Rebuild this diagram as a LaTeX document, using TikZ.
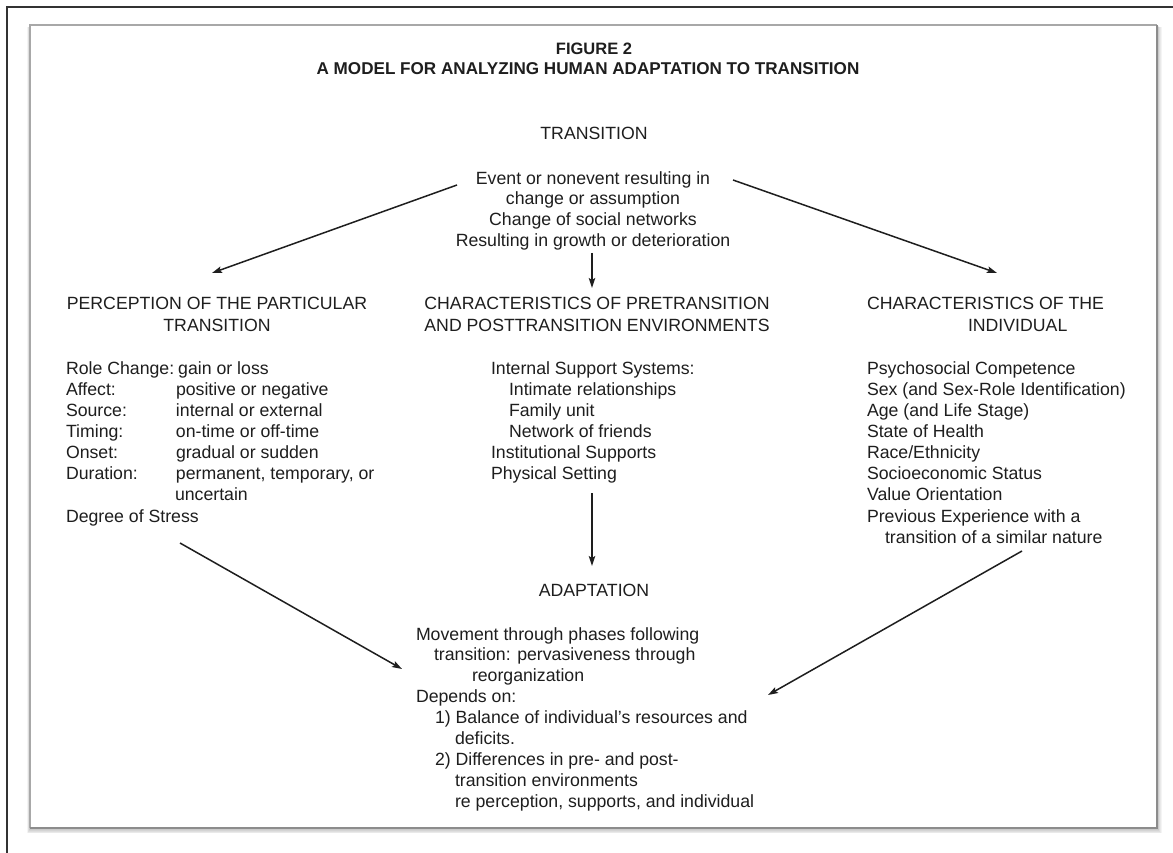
\documentclass[tikz,border=0pt]{standalone}
\usepackage{fontspec}
\setmainfont{Liberation Sans}
\usetikzlibrary{arrows.meta}
\definecolor{ink}{HTML}{1E1E1E}
\definecolor{frameink}{HTML}{333333}
\definecolor{boxline}{HTML}{A8A8A8}
\definecolor{boxdark}{HTML}{8C8C8C}
\newcommand{\lab}[1]{\makebox[110pt][l]{#1}}
% multi-line nodes: the base anchor sits on the baseline of the last line
\tikzset{
  txt/.style={inner sep=0pt, outer sep=0pt, text=ink,
              font=\fontsize{17.7}{21.15}\selectfont},
  blocktxt/.style={txt, align=left, anchor=base west},
  ctrtxt/.style={txt, align=center, anchor=base},
  titletxt/.style={inner sep=0pt, text=ink, anchor=base},
  arr/.style={draw=ink, line width=1.5pt,
              -{Stealth[length=10pt,width=6.5pt,inset=2pt]}},
}
\begin{document}
\begin{tikzpicture}[x=1pt,y=-1pt]
\useasboundingbox (0,0) rectangle (1173,853);
\fill[white] (0,0) rectangle (1173,853);

% outer frame (top and left edges)
\draw[frameink, line width=1.5pt] (7,853) -- (7,7) -- (1173,7);

% panel with soft shadow
\foreach \i in {1,...,6}{
  \fill[black, opacity=0.045] (30-0.5*\i, 25+0.4*\i) rectangle (1157+0.8*\i, 828+0.9*\i);
}
\fill[white] (30,25) rectangle (1157,828);
\draw[boxline, line width=1.3pt] (30,828) -- (30,25) -- (1157,25);
\draw[boxdark, line width=1.7pt] (30,828) -- (1157,828) -- (1157,25);

% title
\node[titletxt, font=\bfseries\fontsize{16.5}{18}\selectfont] (fig) at (594,55) {FIGURE 2};
\node[titletxt, font=\bfseries\fontsize{17.1}{20}\selectfont] (title) at (588,75)
  {A MODEL FOR ANALYZING HUMAN ADAPTATION TO TRANSITION};

% transition
\node[ctrtxt] (tr) at (594,140) {TRANSITION};
\node[ctrtxt, font=\fontsize{17.7}{20.7}\selectfont] (ev) at (593,246.1)
  {Event or nonevent resulting in\\change or assumption\\Change of social networks\\Resulting in growth or deterioration};

% three columns: headings
\node[ctrtxt] (ph) at (217,331) {PERCEPTION OF THE PARTICULAR\\TRANSITION};
\node[ctrtxt] (mh) at (597,331) {CHARACTERISTICS OF PRETRANSITION\\AND POSTTRANSITION ENVIRONMENTS};
\node[blocktxt] (rh) at (867,331) {CHARACTERISTICS OF THE\\\hspace*{101pt}INDIVIDUAL};

% three columns: lists
\node[blocktxt] (pl) at (66,522.05)
  {Role Change:\hspace{4pt}gain or loss\\
   \lab{Affect:}positive or negative\\
   \lab{Source:}internal or external\\
   \lab{Timing:}on-time or off-time\\
   \lab{Onset:}gradual or sudden\\
   \lab{Duration:}permanent, temporary, or\\
   \hspace*{109pt}uncertain\\
   Degree of Stress};
\node[blocktxt] (ml) at (491,479.75)
  {Internal Support Systems:\\
   \hspace*{18pt}Intimate relationships\\
   \hspace*{18pt}Family unit\\
   \hspace*{18pt}Network of friends\\
   Institutional Supports\\
   Physical Setting};
\node[blocktxt] (rl) at (867,543.2)
  {Psychosocial Competence\\
   Sex (and Sex-Role Identification)\\
   Age (and Life Stage)\\
   State of Health\\
   Race/Ethnicity\\
   Socioeconomic Status\\
   Value Orientation\\
   Previous Experience with a\\
   \hspace*{18pt}transition of a similar nature};

% adaptation
\node[ctrtxt] (ah) at (594,596.7) {ADAPTATION};
\node[blocktxt, font=\fontsize{17.7}{20.9}\selectfont] (al) at (416,807.2)
  {Movement through phases following\\
   \hspace*{18pt}transition: pervasiveness through\\
   \hspace*{56pt}reorganization\\
   Depends on:\\
   \hspace*{19pt}1) Balance of individual’s resources and\\
   \hspace*{39pt}deficits.\\
   \hspace*{19pt}2) Differences in pre- and post-\\
   \hspace*{39pt}transition environments\\
   \hspace*{39pt}re perception, supports, and individual};

% connectors
\draw[arr] ([xshift=-136pt, yshift=61.1pt]ev.base) -- ([xshift=-5pt, yshift=58pt]ph.base);
\draw[arr] ([xshift=140pt, yshift=66.1pt]ev.base) -- ([xshift=130pt, yshift=58pt]rh.base west);
\draw[arr] ([xshift=-1pt, yshift=-6.9pt]ev.base) -- ([xshift=-5pt, yshift=43pt]mh.base);
\draw[arr] ([xshift=101pt, yshift=-13.25pt]ml.base west) -- ([xshift=-2pt, yshift=30.7pt]ah.base);
\draw[arr] ([xshift=114pt, yshift=-20.95pt]pl.base west) -- ([xshift=-14pt, yshift=138.2pt]al.base west);
\draw[arr] ([xshift=155pt, yshift=-7.8pt]rl.base west) -- ([xshift=352pt, yshift=112.2pt]al.base west);
\end{tikzpicture}
\end{document}
